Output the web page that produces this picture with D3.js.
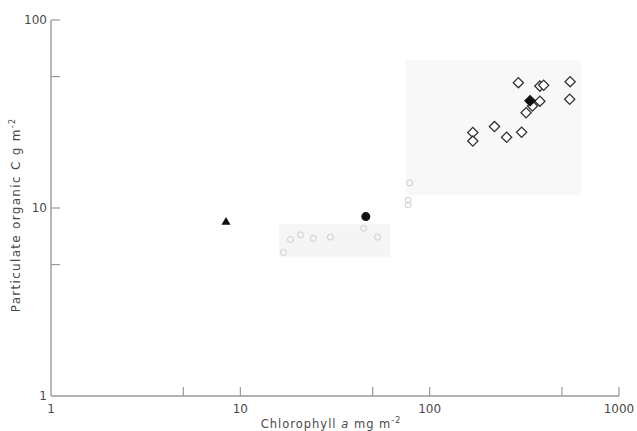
<!DOCTYPE html>
<html>
<head>
<meta charset="utf-8">
<script src="https://cdn.jsdelivr.net/npm/d3@7"></script>
<style>
  body { margin: 0; background: #fff; }
  svg text { font-family: "DejaVu Sans", sans-serif; fill: #4a4a4a; }
</style>
</head>
<body>
<svg width="637" height="431"></svg>
<script>
// tick labels
var xTickLabels = [1, 10, 100, 1000];
var yTickLabels = [1, 10, 100];
var xTickMarks = [5, 10, 50, 100, 500, 1000];
var yTickMarks = [5, 10, 50, 100];

// open diamonds (chl a, POC)
var diamondX = [294, 382, 400, 552, 382, 349, 323, 549, 220, 169, 169, 255, 306];
var diamondY = [46.4, 44.5, 45, 47, 37, 34.9, 32.1, 37.9, 27.1, 25.2, 22.7, 23.8, 25.3];
// filled symbols
var filledDiamond = [339, 37.2];
var filledCircle = [46, 9.0];
var filledTriangle = [8.4, 8.4];
// faint grey symbols
var faintX = [18.4, 20.8, 24.3, 29.9, 16.9, 44.8, 53, 78.4, 77, 77];
var faintY = [6.8, 7.2, 6.9, 7.0, 5.8, 7.8, 7.0, 13.6, 11.0, 10.4];

var svg = d3.select("svg");

var x = d3.scaleLog().domain([1, 1000]).range([51, 619]);
var y = d3.scaleLog().domain([1, 100]).range([396, 20]);

// faint scan background patches
svg.append("rect").attr("x", x(75)).attr("y", y(61)).attr("width", x(630) - x(75)).attr("height", y(11.7) - y(61)).attr("fill", "#f8f8f8");
svg.append("rect").attr("x", x(16)).attr("y", y(8.2)).attr("width", x(62) - x(16)).attr("height", y(5.5) - y(8.2)).attr("fill", "#f5f5f5");

// axes
svg.append("line").attr("x1", x(1)).attr("y1", y(1)).attr("x2", x(1)).attr("y2", y(100)).attr("stroke", "#999").attr("stroke-width", 1.4);
svg.append("line").attr("x1", x(1)).attr("y1", y(1)).attr("x2", x(1000)).attr("y2", y(1)).attr("stroke", "#999").attr("stroke-width", 1.4);

svg.selectAll(".xt").data(xTickMarks).enter().append("line")
  .attr("x1", function(d) { return x(d); }).attr("x2", function(d) { return x(d); })
  .attr("y1", y(1)).attr("y2", y(1) - 9)
  .attr("stroke", "#999").attr("stroke-width", 1.2);
svg.selectAll(".yt").data(yTickMarks).enter().append("line")
  .attr("x1", x(1)).attr("x2", x(1) + 9)
  .attr("y1", function(d) { return y(d); }).attr("y2", function(d) { return y(d); })
  .attr("stroke", "#999").attr("stroke-width", 1.2);

svg.selectAll(".xl").data(xTickLabels).enter().append("text")
  .attr("x", function(d) { return x(d); }).attr("y", y(1) + 17)
  .attr("text-anchor", "middle").attr("font-size", 12)
  .text(function(d) { return d; });
svg.selectAll(".yl").data(yTickLabels).enter().append("text")
  .attr("x", x(1) - 4).attr("y", function(d) { return y(d) + 4; })
  .attr("text-anchor", "end").attr("font-size", 12)
  .text(function(d) { return d; });

// axis titles
var xt = svg.append("text").attr("x", 331).attr("y", 428).attr("text-anchor", "middle")
  .attr("font-size", 11.5).attr("letter-spacing", 1);
xt.append("tspan").text("Chlorophyll ");
xt.append("tspan").attr("font-style", "italic").text("a");
xt.append("tspan").text("  mg m");
xt.append("tspan").attr("dy", -5).attr("font-size", 8).text("-2");

var yt = svg.append("text").attr("transform", "translate(20,215) rotate(-90)").attr("text-anchor", "middle")
  .attr("font-size", 12).attr("letter-spacing", 1.3);
yt.append("tspan").text("Particulate organic C   g m");
yt.append("tspan").attr("dy", -5).attr("font-size", 8).text("-2");

// faint symbols
svg.selectAll(".faint").data(faintX).enter().append("circle")
  .attr("cx", function(d) { return x(d); })
  .attr("cy", function(d, i) { return y(faintY[i]); })
  .attr("r", 3).attr("fill", "none").attr("stroke", "#ccc").attr("stroke-width", 1);

// open diamonds: squares turned 45 degrees
var diamond = d3.symbol().type(d3.symbolSquare).size(52);
svg.selectAll(".dia").data(diamondX).enter().append("path")
  .attr("d", diamond)
  .attr("transform", function(d, i) { return "translate(" + x(d) + "," + y(diamondY[i]) + ") rotate(45)"; })
  .attr("fill", "#fff").attr("stroke", "#333").attr("stroke-width", 1.3);

svg.append("path").attr("d", diamond)
  .attr("transform", "translate(" + x(filledDiamond[0]) + "," + y(filledDiamond[1]) + ") rotate(45)")
  .attr("fill", "#111").attr("stroke", "#111").attr("stroke-width", 1.3);

svg.append("circle").attr("cx", x(filledCircle[0])).attr("cy", y(filledCircle[1])).attr("r", 4.5).attr("fill", "#111");

svg.append("path").attr("d", d3.symbol().type(d3.symbolTriangle).size(36))
  .attr("transform", "translate(" + x(filledTriangle[0]) + "," + y(filledTriangle[1]) + ")")
  .attr("fill", "#111");
</script>
</body>
</html>
